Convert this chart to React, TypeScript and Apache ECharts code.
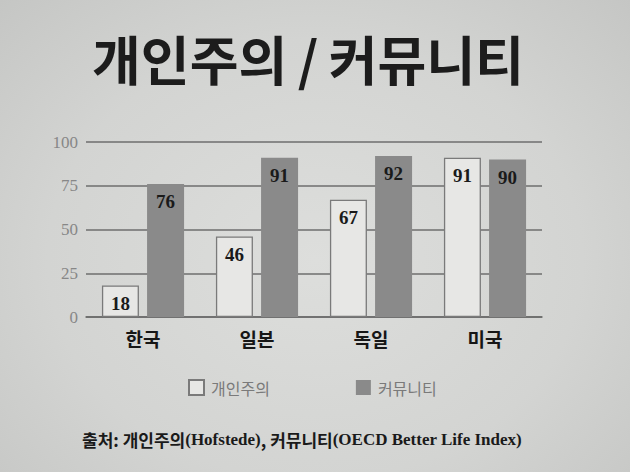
import React, { useEffect, useRef } from "react";
import * as echarts from "echarts";

const categories = ["한국", "일본", "독일", "미국"];
const individualism = [18, 46, 67, 91];
const community = [76, 91, 92, 90];
const seriesNames = ["개인주의", "커뮤니티"];
const yTicks = [0, 25, 50, 75, 100];

const KR = "'Noto Sans CJK KR', 'Noto Sans', sans-serif";
const SERIF = "'Liberation Serif', 'DejaVu Serif', serif";

export default function App() {
  const ref = useRef<HTMLDivElement>(null);
  useEffect(() => {
    document.body.style.margin = "0";
    const chart = echarts.init(ref.current!, null, { renderer: "svg" });
    chart.setOption({
      animation: false,
      backgroundColor: "transparent",
      title: {
        text: "개인주의\u2009/\u2009커뮤니티",
        left: 303,
        textAlign: "center",
        top: 26,
        textStyle: { fontFamily: KR, fontWeight: "bold", fontSize: 53, color: "#1c1c1c" },
      },
      legend: {
        data: seriesNames,
        left: 183,
        top: 374,
        icon: "rect",
        itemWidth: 15,
        itemHeight: 15,
        itemGap: 86,
        textStyle: { fontFamily: KR, fontSize: 16, color: "#7a7a7a", padding: [0, 0, 0, 2] },
      },
      grid: { left: 86, right: 88, top: 142, bottom: 155 },
      xAxis: {
        type: "category",
        data: categories,
        axisTick: { show: false },
        axisLine: { lineStyle: { color: "#6a6a6a", width: 1.5 } },
        axisLabel: { margin: 12, fontFamily: KR, fontWeight: "bold", fontSize: 19, color: "#161616" },
      },
      yAxis: {
        type: "value",
        min: 0,
        max: 100,
        interval: 25,
        axisLine: { show: false },
        axisTick: { show: false },
        axisLabel: {
          margin: 8,
          fontFamily: SERIF,
          fontSize: 17,
          color: "#878787",
          formatter: (v: number) => (yTicks.includes(v) ? String(v) : ""),
        },
        splitLine: { lineStyle: { color: "#6e6e6e", width: 1.5 } },
      },
      series: [
        {
          name: seriesNames[0],
          type: "bar",
          data: individualism,
          barWidth: 37,
          barGap: "22%",
          itemStyle: { color: "#e7e7e5", borderColor: "#7a7a7a", borderWidth: 1.3 },
          label: {
            show: true,
            position: "insideTop",
            distance: 8,
            fontFamily: SERIF,
            fontWeight: "bold",
            fontSize: 19,
            color: "#1a1a1a",
          },
        },
        {
          name: seriesNames[1],
          type: "bar",
          data: community,
          barWidth: 37,
          itemStyle: { color: "#8a8a8a" },
          label: {
            show: true,
            position: "insideTop",
            distance: 8,
            fontFamily: SERIF,
            fontWeight: "bold",
            fontSize: 19,
            color: "#1a1a1a",
          },
        },
      ],
      graphic: [
        {
          type: "text",
          left: 82,
          top: 431,
          style: {
            text: "{k|출처: 개인주의}{e|(Hofstede)}{k|, 커뮤니티}{e|(OECD Better Life Index)}",
            rich: {
              k: { fontFamily: KR, fontWeight: "bold", fontSize: 17, fill: "#1a1a1a" },
              e: { fontFamily: SERIF, fontWeight: "bold", fontSize: 17, fill: "#1a1a1a" },
            },
          },
        },
      ],
    });
    return () => chart.dispose();
  }, []);
  return (
    <div
      ref={ref}
      style={{
        width: 630,
        height: 472,
        background: "radial-gradient(ellipse at 50% 55%, #dddedc 0%, #d3d4d2 60%, #c5c6c4 100%)",
      }}
    />
  );
}
